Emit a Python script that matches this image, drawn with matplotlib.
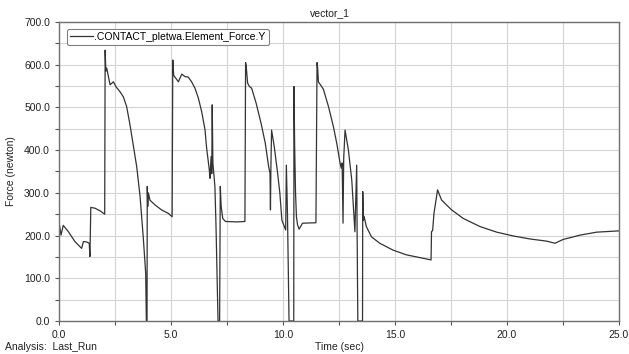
import matplotlib
matplotlib.use("Agg")
import matplotlib.pyplot as plt
from matplotlib.ticker import MultipleLocator, FormatStrFormatter

# Values (time in sec, force in newton)
time_sec = [
    0.00, 0.02, 0.09, 0.19, 0.42, 0.71, 1.01, 1.09, 1.24, 1.35, 1.38, 1.42,
    1.61, 1.83, 2.04, 2.06, 2.09, 2.13, 2.28, 2.43, 2.55, 2.72, 2.87, 3.02,
    3.17, 3.35, 3.47, 3.62, 3.76, 3.87, 3.90, 3.93, 3.94, 3.96, 3.99, 4.06,
    4.28, 4.58, 4.88, 5.05, 5.08, 5.12, 5.33, 5.48, 5.63, 5.77, 5.92, 6.07,
    6.22, 6.37, 6.52, 6.59, 6.71, 6.74, 6.79, 6.82, 6.84, 6.87, 6.96, 7.01,
    7.05, 7.10, 7.17, 7.20, 7.24, 7.31, 7.43, 7.95, 8.30, 8.33, 8.36, 8.42,
    8.50, 8.60, 8.80, 9.02, 9.21, 9.36, 9.42, 9.44, 9.46, 9.49, 9.61, 9.76,
    9.86, 9.95, 10.12, 10.15, 10.20, 10.27, 10.48, 10.49, 10.52, 10.56, 10.60,
    10.65, 10.72, 10.87, 11.47, 11.52, 11.55, 11.58, 11.80, 12.03, 12.25,
    12.40, 12.55, 12.60, 12.64, 12.68, 12.71, 12.77, 12.92, 13.07, 13.21,
    13.29, 13.31, 13.34, 13.55, 13.56, 13.59, 13.62, 13.72, 13.95, 14.32,
    14.91, 15.50, 16.25, 16.61, 16.63, 16.68, 16.74, 16.90, 17.08, 17.53,
    18.05, 18.80, 19.54, 20.29, 21.03, 21.77, 22.14, 22.51, 23.26, 24.00,
    25.00,
]
force_y = [
    112, 225, 201, 224, 209, 186, 170, 186, 185, 182, 151, 266,
    264, 258, 250, 634, 585, 592, 553, 560, 548, 537, 525, 502,
    459, 400, 361, 291, 197, 112, 0, 0, 315, 268, 300, 283,
    272, 260, 252, 244, 611, 575, 560, 578, 572, 571, 560, 545,
    522, 490, 447, 405, 354, 334, 385, 345, 506, 370, 315, 221,
    127, 0, 0, 315, 268, 240, 233, 232, 233, 605, 595, 557,
    549, 545, 510, 463, 416, 361, 346, 260, 360, 447, 408, 346,
    299, 236, 213, 365, 250, 0, 0, 549, 408, 299, 244,
    225, 215, 229, 230, 605, 590, 560, 543, 502, 455,
    416, 369, 358, 370, 229, 380, 447, 400, 330, 209,
    365, 200, 0, 0, 303, 236, 245, 221, 197, 182,
    166, 155, 147, 143, 209, 212, 252, 307, 283, 260,
    240, 221, 208, 199, 192, 187, 182, 191, 201, 208,
    211,
]

plt.rcParams["font.family"] = ["Liberation Sans", "DejaVu Sans"]

fig = plt.figure(figsize=(6.29, 3.54), dpi=100)
ax = fig.add_axes([0.0938, 0.0932, 0.8903, 0.8447])

ax.plot(time_sec, force_y, color="#333333", linewidth=0.9,
        label=".CONTACT_pletwa.Element_Force.Y")

ax.set_xlim(0, 25)
ax.set_ylim(0, 700)
ax.xaxis.set_major_locator(MultipleLocator(5))
ax.xaxis.set_minor_locator(MultipleLocator(2.5))
ax.yaxis.set_major_locator(MultipleLocator(100))
ax.yaxis.set_minor_locator(MultipleLocator(50))
ax.xaxis.set_major_formatter(FormatStrFormatter("%.1f"))
ax.yaxis.set_major_formatter(FormatStrFormatter("%.1f"))
ax.grid(which="both", color="#d4d4d4", linewidth=0.8)
ax.set_axisbelow(True)
ax.tick_params(which="both", labelsize=7.5, colors="#555555",
               labelcolor="#222222", length=3, width=0.8)
for s in ax.spines.values():
    s.set_color("#707070")
    s.set_linewidth(1.0)

ax.set_ylabel("Force (newton)", fontsize=7.5, color="#222222", labelpad=6)
fig.text(0.539, 0.012, "Time (sec)", fontsize=7.5, color="#222222", ha="center")
fig.text(0.008, 0.012, "Analysis:  Last_Run", fontsize=7.5, color="#222222")
fig.text(0.525, 0.955, "vector_1", fontsize=7.5, color="#222222", ha="center")

leg = ax.legend(loc="upper left", fontsize=7.5, handlelength=2.2,
                borderpad=0.3, handletextpad=0.1, fancybox=True,
                edgecolor="#808080", framealpha=1, bbox_to_anchor=(0.005, 0.995))
leg.get_frame().set_linewidth(0.8)

fig.savefig("out.png", dpi=100)
